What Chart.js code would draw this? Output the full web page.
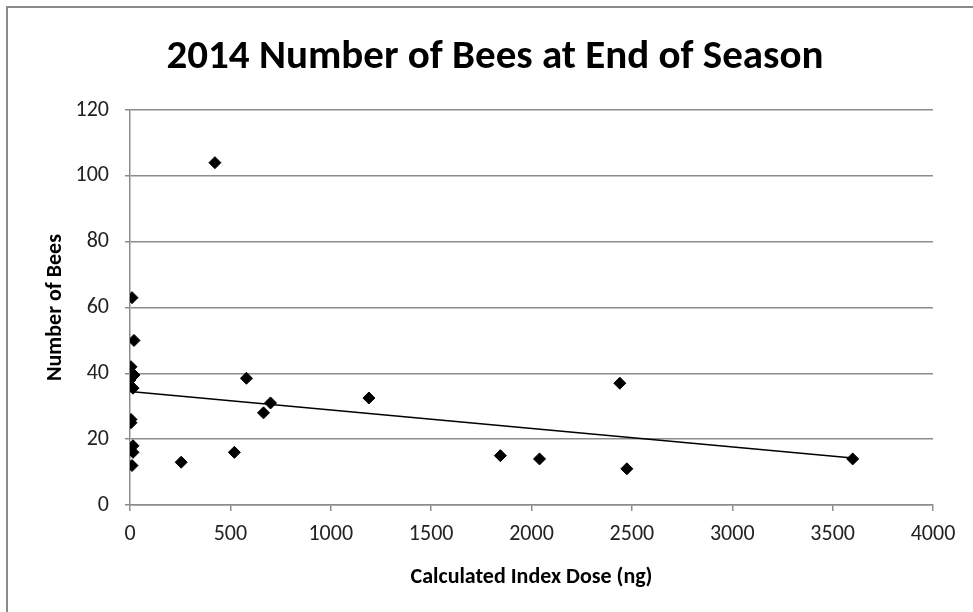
<!DOCTYPE html>
<html>
<head>
<meta charset="utf-8">
<script src="https://cdn.jsdelivr.net/npm/chart.js@4/dist/chart.umd.min.js"></script>
<style>
  html, body { margin: 0; padding: 0; background: #fff; }
  #wrap { position: relative; width: 973px; height: 612px; }
</style>
</head>
<body>
<div id="wrap"><canvas id="c" width="973" height="612"></canvas></div>
<script>
// Calculated index dose (ng) per colony and bees counted at season end
const doseNg = [10, 20, 5, 20, 0, 15, 5, 5, 15, 15, 10,
                255, 423, 520, 580, 665, 700, 1190, 1845, 2040, 2440, 2475, 3600];
const beeCount = [63, 50, 42, 39.5, 38, 35.5, 26, 25, 18, 16, 12,
                  13, 104, 16, 38.5, 28, 31, 32.5, 15, 14, 37, 11, 14];

// Linear trend line end points
const trendX = [0, 3600];
const trendY = [34.5, 14.3];

const xTicks = [0, 500, 1000, 1500, 2000, 2500, 3000, 3500, 4000];
const yTicks = [0, 20, 40, 60, 80, 100, 120];

const chartTitle = '2014 Number of Bees at End of Season';

const FONT = "Calibri, Carlito, 'Liberation Sans Narrow', 'Open Sans', sans-serif";
const GRID = '#8c8c8c';

const points = doseNg.map((x, i) => ({ x: x, y: beeCount[i] }));
const trend = trendX.map((x, i) => ({ x: x, y: trendY[i] }));

// White panel with a thin frame along its top and left edges, plus the heading
const framePlugin = {
  id: 'frame',
  beforeDraw(chart) {
    const ctx = chart.ctx;
    ctx.save();
    ctx.fillStyle = '#ffffff';
    ctx.fillRect(0, 0, chart.width, chart.height);
    ctx.strokeStyle = '#8a8a8a';
    ctx.lineWidth = 2;
    ctx.beginPath();
    ctx.moveTo(7, chart.height);
    ctx.lineTo(7, 7);
    ctx.lineTo(chart.width, 7);
    ctx.stroke();

    ctx.fillStyle = '#000000';
    ctx.font = 'bold 41px ' + FONT;
    ctx.textAlign = 'center';
    ctx.textBaseline = 'middle';
    ctx.fillText(chartTitle, 495, 58);
    ctx.restore();
  }
};

new Chart(document.getElementById('c'), {
  type: 'scatter',
  data: {
    datasets: [
      {
        label: 'Bees',
        data: points,
        pointStyle: 'rectRot',
        pointRadius: 6,
        pointHoverRadius: 6,
        backgroundColor: '#000000',
        borderColor: '#000000',
        borderWidth: 1,
        order: 1
      },
      {
        label: 'Trend',
        type: 'line',
        data: trend,
        borderColor: '#000000',
        borderWidth: 1.5,
        pointRadius: 0,
        fill: false,
        order: 2
      }
    ]
  },
  options: {
    responsive: false,
    animation: false,
    layout: { padding: { left: 0, right: 40, top: 110, bottom: 0 } },
    plugins: {
      legend: { display: false },
      tooltip: { enabled: false },
      title: { display: false }
    },
    scales: {
      x: {
        type: 'linear',
        min: 0,
        max: 4000,
        afterBuildTicks(scale) { scale.ticks = xTicks.map(v => ({ value: v })); },
        afterFit(scale) { scale.height = 107; },
        grid: {
          display: true,
          drawOnChartArea: false,
          drawTicks: true,
          tickLength: 6,
          color: GRID,
          lineWidth: 1.5
        },
        border: { display: true, color: GRID, width: 1.5 },
        ticks: {
          color: '#222222',
          font: { family: FONT, size: 22 },
          padding: 10,
          maxRotation: 0,
          callback: v => String(v)
        },
        title: {
          display: true,
          text: 'Calculated Index Dose (ng)',
          color: '#000000',
          font: { family: FONT, size: 22, weight: 'bold' },
          padding: { top: 0, bottom: 21 }
        }
      },
      y: {
        type: 'linear',
        min: 0,
        max: 120,
        afterBuildTicks(scale) { scale.ticks = yTicks.map(v => ({ value: v })); },
        afterFit(scale) { scale.width = 130; },
        grid: {
          display: true,
          drawTicks: true,
          tickLength: 5,
          color: GRID,
          lineWidth: 1.5
        },
        border: { display: true, color: GRID, width: 1.5 },
        ticks: {
          color: '#222222',
          font: { family: FONT, size: 22 },
          padding: 16,
          callback: v => String(v)
        },
        title: {
          display: true,
          text: 'Number of Bees',
          color: '#000000',
          font: { family: FONT, size: 22, weight: 'bold' },
          padding: { top: 42, bottom: 0 }
        }
      }
    }
  },
  plugins: [framePlugin]
});
</script>
</body>
</html>
